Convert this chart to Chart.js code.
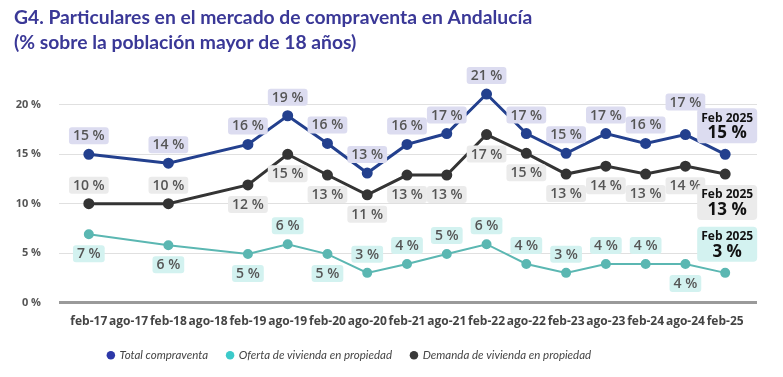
<!DOCTYPE html>
<html>
<head>
<meta charset="utf-8">
<script src="https://cdn.jsdelivr.net/npm/chart.js@4"></script>
<style>
  body { margin: 0; background: #fff; }
</style>
</head>
<body>
<canvas id="chart" width="783" height="377"></canvas>
<script>
const periods = ['feb-17', 'ago-17', 'feb-18', 'ago-18', 'feb-19', 'ago-19', 'feb-20', 'ago-20', 'feb-21',
    'ago-21', 'feb-22', 'ago-22', 'feb-23', 'ago-23', 'feb-24', 'ago-24', 'feb-25'];

// ago-17 and ago-18 have no survey value
const totalCompraventa = [15, null, 14.1, null, 16, 18.9, 16.1, 13.1, 16, 17.1, 21.1, 17.1, 15.1, 17.1, 16.1, 17, 15];
const ofertaVivienda = [6.9, null, 5.8, null, 4.9, 5.9, 4.9, 3, 3.9, 4.9, 5.9, 3.9, 3, 3.9, 3.9, 3.9, 3];
const demandaVivienda = [10, null, 10, null, 11.9, 15, 12.9, 10.9, 12.9, 12.9, 17, 15.1, 13, 13.8, 13, 13.8, 13];

const yTicks = [0, 5, 10, 15, 20];
const lastLabel = 'Feb 2025';

// where each value label sits: 'a' above the point, 'b' below, 'A' well above
const totalPos = ['a', '', 'a', '', 'a', 'a', 'a', 'a', 'a', 'a', 'a', 'a', 'a', 'a', 'a', 'A', 'a'];
const ofertaPos = ['b', '', 'b', '', 'b', 'a', 'b', 'a', 'a', 'a', 'a', 'a', 'a', 'a', 'a', 'b', 'a'];
const demandaPos = ['a', '', 'a', '', 'b', 'b', 'b', 'b', 'b', 'b', 'b', 'b', 'b', 'b', 'b', 'b', 'b'];

const series = [
    { label: 'Total compraventa', data: totalCompraventa, pos: totalPos, line: '#23408e', dot: '#2d38a8', box: '#dcdcf0', width: 3 },
    { label: 'Oferta de vivienda en propiedad', data: ofertaVivienda, pos: ofertaPos, line: '#5bb7b2', dot: '#3ccaca', box: '#d3f2f0', width: 2 },
    { label: 'Demanda de vivienda en propiedad', data: demandaVivienda, pos: demandaPos, line: '#343434', dot: '#3a3a3a', box: '#ebebeb', width: 3 }
];

function roundRect(ctx, x, y, w, h, r) {
    ctx.beginPath();
    ctx.moveTo(x + r, y);
    ctx.arcTo(x + w, y, x + w, y + h, r);
    ctx.arcTo(x + w, y + h, x, y + h, r);
    ctx.arcTo(x, y + h, x, y, r);
    ctx.arcTo(x, y, x + w, y, r);
    ctx.closePath();
    ctx.fill();
}

const valueLabels = {
    id: 'valueLabels',
    afterDatasetsDraw(chart) {
        const ctx = chart.ctx;
        ctx.save();
        ctx.textAlign = 'center';
        ctx.textBaseline = 'middle';
        chart.data.datasets.forEach((ds, d) => {
            const s = series[d];
            const meta = chart.getDatasetMeta(d);
            const last = s.data.length - 1;
            meta.data.forEach((pt, i) => {
                const v = s.data[i];
                if (v === null) return;
                const text = Math.round(v) + ' %';
                if (i === last) {
                    const cy = pt.y + (s.pos[i] === 'b' ? 28 : -29);
                    ctx.fillStyle = s.box;
                    roundRect(ctx, pt.x - 28, cy - 17, 60, 35, 4);
                    ctx.fillStyle = '#111';
                    ctx.font = 'bold 12px "Open Sans"';
                    ctx.fillText(lastLabel, pt.x + 2, cy - 7);
                    ctx.font = 'bold 17px "Open Sans"';
                    ctx.fillText(text, pt.x + 2, cy + 8);
                    return;
                }
                const off = s.pos[i] === 'b' ? 19 : s.pos[i] === 'A' ? -33 : -19;
                ctx.font = '600 14px "Open Sans"';
                const w = ctx.measureText(text).width + 8;
                ctx.fillStyle = s.box;
                roundRect(ctx, pt.x - w / 2, pt.y + off - 8, w, 17, 3);
                ctx.fillStyle = '#555';
                ctx.fillText(text, pt.x, pt.y + off + 1);
            });
        });
        ctx.restore();
    }
};

// the legend in the source sits left of centre
const legendShift = {
    id: 'legendShift',
    afterLayout(chart) {
        chart.legend.left -= 36;
        chart.legend.right -= 36;
    }
};

const xy = arr => arr.map((v, i) => ({ x: i, y: v }));

new Chart(document.getElementById('chart'), {
    type: 'line',
    data: {
        datasets: series.map(s => ({
            label: s.label,
            data: xy(s.data),
            borderColor: s.line,
            backgroundColor: s.dot,
            pointBackgroundColor: s.line,
            pointBorderColor: s.line,
            borderWidth: s.width,
            pointRadius: 4,
            pointHoverRadius: 4,
            spanGaps: true,
            tension: 0
        }))
    },
    options: {
        responsive: false,
        devicePixelRatio: 1,
        animation: false,
        layout: { padding: { left: 14, right: 26, top: 0, bottom: 6 } },
        scales: {
            x: {
                type: 'linear',
                min: -0.75,
                max: 16.8,
                afterBuildTicks: scale => { scale.ticks = periods.map((p, i) => ({ value: i })); },
                afterFit: scale => { scale.height = 28; },
                ticks: {
                    autoSkip: false,
                    maxRotation: 0,
                    padding: 12,
                    color: '#444',
                    font: { family: 'Open Sans', weight: 'bold', size: 12 },
                    callback: v => periods[v]
                },
                grid: { display: false, drawTicks: false },
                border: { display: false }
            },
            y: {
                min: 0,
                max: 22.4,
                afterBuildTicks: scale => { scale.ticks = yTicks.map(v => ({ value: v })); },
                afterFit: scale => { scale.width = 45; },
                ticks: {
                    padding: 18,
                    color: '#555',
                    font: { family: 'Open Sans', weight: 'bold', size: 11 },
                    callback: v => v + ' %'
                },
                grid: {
                    drawTicks: false,
                    color: c => c.tick.value === 0 ? '#9a9a9a' : '#e0e0e0',
                    lineWidth: c => c.tick.value === 0 ? 3 : 1
                },
                border: { display: false }
            }
        },
        plugins: {
            title: {
                display: true,
                align: 'start',
                text: ['G4. Particulares en el mercado de compraventa en Andalucía', '(% sobre la población mayor de 18 años)'],
                color: '#3a3897',
                font: { family: 'Lato', weight: 'bold', size: 19.3, lineHeight: 1.3 },
                padding: { top: 5, bottom: 26 }
            },
            legend: {
                position: 'bottom',
                labels: {
                    usePointStyle: true,
                    pointStyle: 'circle',
                    boxWidth: 6,
                    boxHeight: 6,
                    padding: 19,
                    color: '#444',
                    font: { family: 'Lato', style: 'italic', size: 11.5 },
                    generateLabels: chart => series.map((s, i) => ({
                        text: s.label,
                        fillStyle: s.dot,
                        strokeStyle: s.dot,
                        fontColor: '#444',
                        lineWidth: 0,
                        pointStyle: 'circle',
                        datasetIndex: i
                    }))
                }
            },
            tooltip: { enabled: false }
        }
    },
    plugins: [valueLabels, legendShift]
});
</script>
</body>
</html>
